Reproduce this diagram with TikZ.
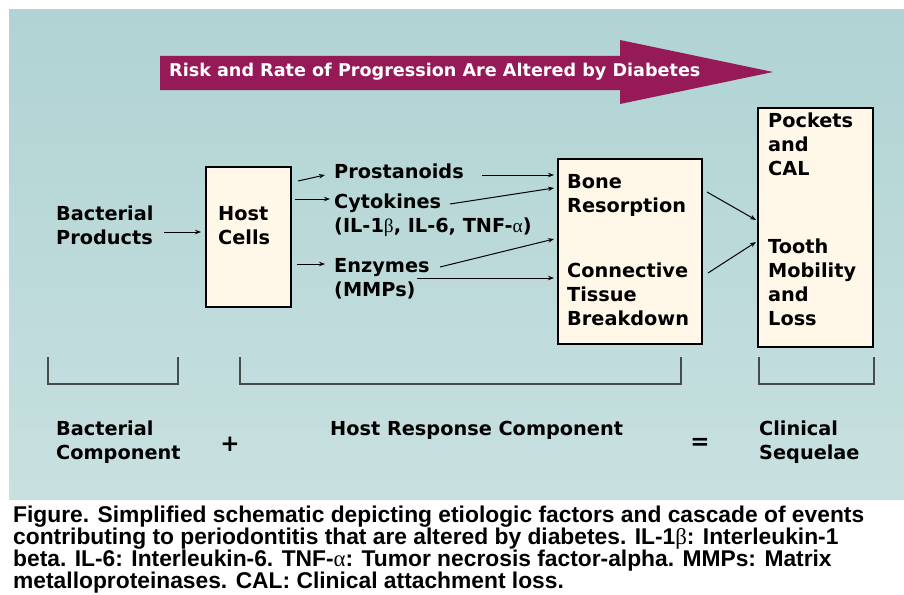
\documentclass[tikz,border=0pt]{standalone}
\usepackage{fontspec}
\setmainfont{DejaVu Sans}
\newfontfamily\capfont{Liberation Sans}
\newfontfamily\greekfont{Liberation Serif}
\usetikzlibrary{arrows.meta}
\definecolor{bgtop}{RGB}{176,211,211}
\definecolor{bgbot}{RGB}{200,224,224}
\definecolor{arrowcol}{RGB}{150,26,88}
\definecolor{boxfill}{RGB}{255,248,232}
\definecolor{brcol}{RGB}{70,75,75}
\newcommand{\gk}[1]{{\greekfont\mdseries #1}}
\tikzset{
  lbl/.style={anchor=base west, inner sep=0pt, align=left, font=\bfseries\fontsize{19.3}{24}\selectfont},
  sym/.style={anchor=center, inner sep=0pt, font=\bfseries\fontsize{23}{24}\selectfont},
  boxx/.style={draw=black, line width=1.1pt, fill=boxfill},
  conn/.style={draw=black, line width=1pt, -{Stealth[length=6pt,width=4.5pt]}},
  brk/.style={draw=brcol, line width=1.6pt},
}
\begin{document}
\begin{tikzpicture}[x=1pt,y=-1pt]
\useasboundingbox (0,0) rectangle (904,594);
\fill[white] (0,0) rectangle (904,594);
\shade[top color=bgtop,bottom color=bgbot] (9,10) rectangle (904,499);
% big arrow
\fill[arrowcol] (160,56) -- (620,56) -- (620,40) -- (773,72) -- (620,104) -- (620,90) -- (160,90) -- cycle;
\node (risk) [anchor=base west, inner sep=0pt, text=white, font=\bfseries\fontsize{17.6}{18}\selectfont] at (169,77) {Risk and Rate of Progression Are Altered by Diabetes};
% boxes
\draw[boxx] (206,167) rectangle (291,307);
\draw[boxx] (558,159) rectangle (702,344);
\draw[boxx] (758,108) rectangle (873,347);
% texts (anchor = baseline of last line)
\node (bact) [lbl] at (56,244) {Bacterial\\Products};
\node (host) [lbl] at (218,244) {Host\\Cells};
\node (prost) [lbl] at (334,178) {Prostanoids};
\node (cyto) [lbl] at (334,232) {Cytokines\\(IL-1\gk{β}, IL-6, TNF-\gk{α})};
\node (enz) [lbl] at (334,296) {Enzymes\\(MMPs)};
\node (bone) [lbl] at (567,212) {Bone\\Resorption};
\node (conn) [lbl] at (567,325) {Connective\\Tissue\\Breakdown};
\node (pock) [lbl] at (768,175) {Pockets\\and\\CAL};
\node (tooth) [lbl] at (768,325) {Tooth\\Mobility\\and\\Loss};
% bottom labels
\node (bcomp) [lbl] at (56,459) {Bacterial\\Component};
\node (plus) [sym] at (230,444) {+};
\node (hrc) [lbl] at (330,435) {Host Response Component};
\node (eq) [sym] at (700,444) {=};
\node (clin) [lbl] at (759,459) {Clinical\\Sequelae};
% connector coordinates
\coordinate (a0s) at (164,232); \coordinate (a0e) at (201,232);
\coordinate (a1s) at (298,181); \coordinate (a1e) at (325,175);
\coordinate (a2s) at (295,199); \coordinate (a2e) at (330,199);
\coordinate (a3s) at (297,264); \coordinate (a3e) at (325,264);
\coordinate (b1s) at (482,175); \coordinate (b1e) at (554,175);
\coordinate (b2s) at (450,204); \coordinate (b2e) at (554,188);
\coordinate (b3s) at (440,267); \coordinate (b3e) at (554,239);
\coordinate (b4s) at (417,278); \coordinate (b4e) at (554,278);
\coordinate (c1s) at (707,192); \coordinate (c1e) at (756,220);
\coordinate (c2s) at (708,273); \coordinate (c2e) at (756,242);
\draw[conn] (a0s) -- (a0e);
\draw[conn] (a1s) -- (a1e);
\draw[conn] (a2s) -- (a2e);
\draw[conn] (a3s) -- (a3e);
\draw[conn] (b1s) -- (b1e);
\draw[conn] (b2s) -- (b2e);
\draw[conn] (b3s) -- (b3e);
\draw[conn] (b4s) -- (b4e);
\draw[conn] (c1s) -- (c1e);
\draw[conn] (c2s) -- (c2e);
% brackets
\draw[brk] (48,357) -- (48,384) -- (178,384) -- (178,357);
\draw[brk] (240,357) -- (240,384) -- (681,384) -- (681,357);
\draw[brk] (759,357) -- (759,384) -- (874,384) -- (874,357);
% caption
\node (cap) [anchor=base west, inner sep=0pt, align=left, font=\capfont\bfseries\fontsize{22.8}{21.8}\selectfont] at (13,588)
{Figure. Simplified schematic depicting etiologic factors and cascade of events\\
contributing to periodontitis that are altered by diabetes. IL-1\gk{β}: Interleukin-1\\
beta. IL-6: Interleukin-6. TNF-\gk{α}: Tumor necrosis factor-alpha. MMPs: Matrix\\
metalloproteinases. CAL: Clinical attachment loss.};
\end{tikzpicture}
\end{document}
